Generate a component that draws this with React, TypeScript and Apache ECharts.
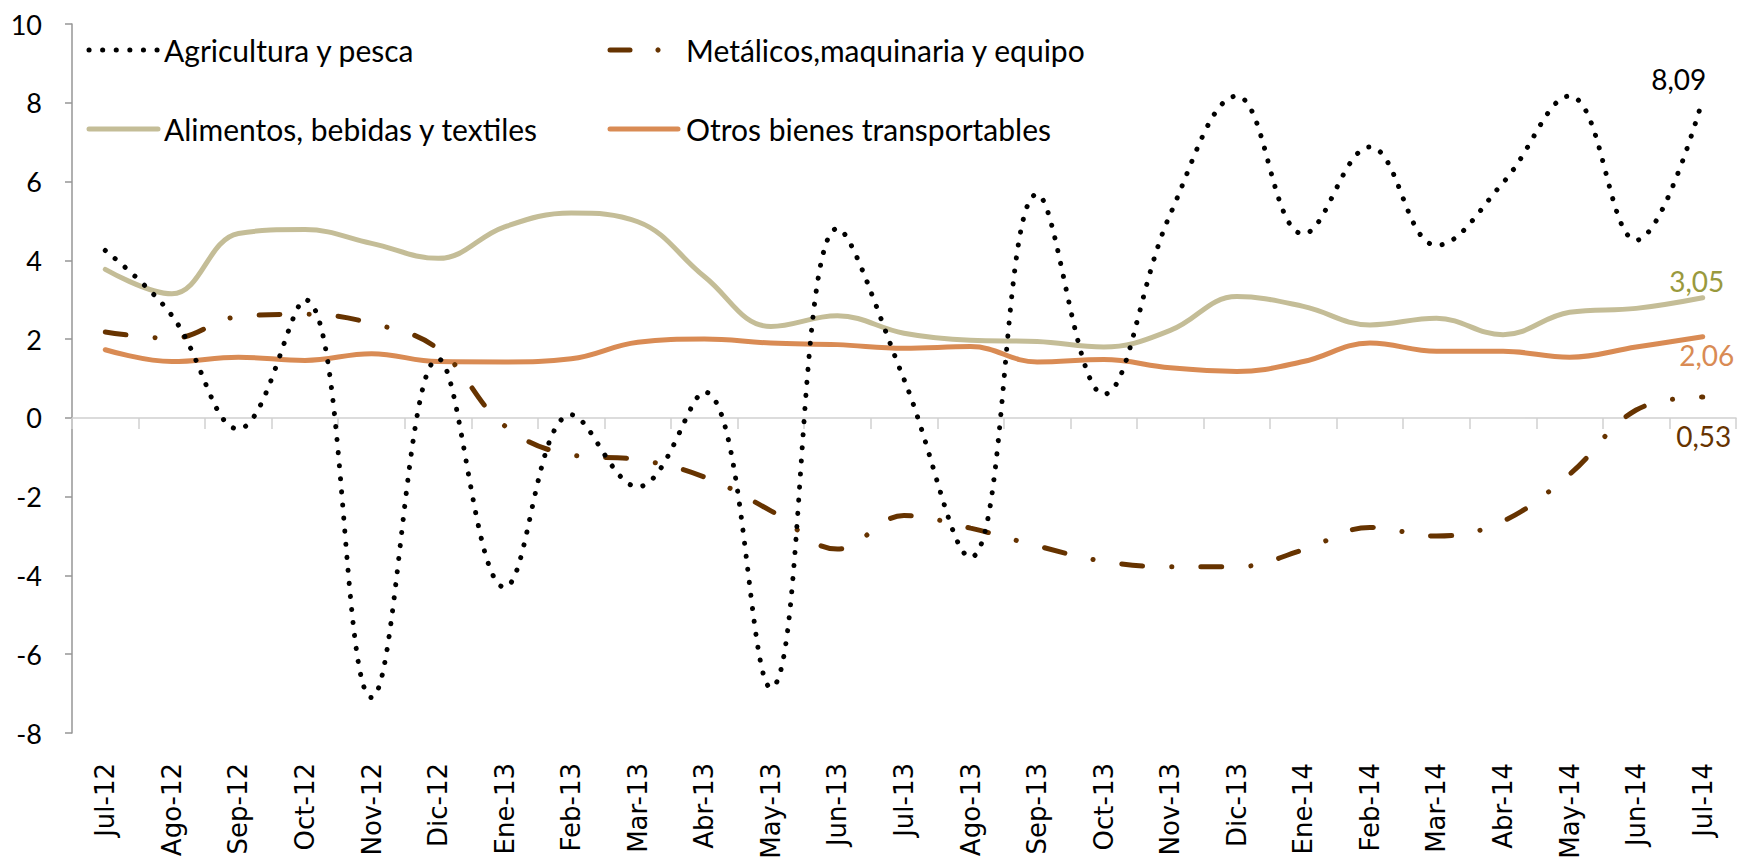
import React, { useEffect, useRef } from "react";
import * as echarts from "echarts";

// Monthly categories (Jul-12 .. Jul-14)
const categories: string[] = [
  "Jul-12", "Ago-12", "Sep-12", "Oct-12", "Nov-12", "Dic-12",
  "Ene-13", "Feb-13", "Mar-13", "Abr-13", "May-13", "Jun-13",
  "Jul-13", "Ago-13", "Sep-13", "Oct-13", "Nov-13", "Dic-13",
  "Ene-14", "Feb-14", "Mar-14", "Abr-14", "May-14", "Jun-14", "Jul-14",
];

const agricultura: number[] = [
  4.25, 2.6, -0.28, 3.0, -7.1, 1.5, -4.3, 0.08, -1.75, 0.66, -6.85, 4.81,
  0.98, -3.54, 5.68, 0.6, 5.17, 8.17, 4.67, 6.88, 4.38, 5.97, 8.17, 4.51, 8.09,
];

const metalicos: number[] = [
  2.18, 2.02, 2.57, 2.63, 2.4, 1.75, -0.2, -0.94, -1.06, -1.5, -2.36, -3.33,
  -2.48, -2.8, -3.25, -3.64, -3.78, -3.78, -3.35, -2.78, -3.0, -2.62, -1.43, 0.2, 0.53,
];

const alimentos: number[] = [
  3.77, 3.15, 4.68, 4.78, 4.43, 4.05, 4.85, 5.2, 4.98, 3.59, 2.32, 2.59,
  2.15, 1.97, 1.94, 1.8, 2.22, 3.08, 2.83, 2.36, 2.53, 2.11, 2.68, 2.78, 3.05,
];

const otros: number[] = [
  1.73, 1.43, 1.54, 1.46, 1.63, 1.43, 1.42, 1.5, 1.92, 2.0, 1.9, 1.86,
  1.77, 1.81, 1.42, 1.48, 1.27, 1.18, 1.43, 1.9, 1.69, 1.69, 1.54, 1.8, 2.06,
];

const yTicks = { min: -8, max: 10, interval: 2 };

const seriesNames = [
  "Agricultura y pesca",
  "Metálicos,maquinaria y equipo",
  "Alimentos, bebidas y textiles",
  "Otros bienes transportables",
];

const COLORS = {
  agricultura: "#000000",
  metalicos: "#663300",
  alimentos: "#c4bd97",
  otros: "#d98b54",
  alimentosLabel: "#99993d",
};

const TEXT_FONT = "Lato, 'Open Sans', sans-serif";
const AXIS_FONT = "'DejaVu Sans', sans-serif";

const fmt = (v: number) => v.toFixed(2).replace(".", ",");

// Value label drawn at the last point of a line
function endLabel(color: string, offset: [number, number]) {
  return {
    show: true,
    formatter: (p: any) => fmt(Array.isArray(p.value) ? p.value[1] : p.value),
    color,
    fontFamily: TEXT_FONT,
    fontSize: 28,
    distance: 0,
    align: "center",
    verticalAlign: "middle",
    offset,
  };
}

export default function App() {
  const ref = useRef<HTMLDivElement>(null);

  useEffect(() => {
    if (!ref.current) return;
    const chart = echarts.init(ref.current, undefined, { renderer: "svg" });

    const legendText = (x: number, y: number, text: string) => ({
      type: "text",
      x,
      y,
      style: {
        text,
        fill: "#000",
        font: `30px ${TEXT_FONT}`,
        verticalAlign: "middle",
      },
    });

    chart.setOption({
      animation: false,
      backgroundColor: "#ffffff",
      grid: { left: 72, right: 4, top: 24, bottom: 129, containLabel: false },
      xAxis: [
        {
          type: "category",
          data: categories,
          position: "bottom",
          boundaryGap: true,
          axisLine: { show: false, onZero: false },
          axisTick: { show: false },
          axisLabel: {
            rotate: 90,
            margin: 30,
            interval: 0,
            color: "#000",
            fontFamily: AXIS_FONT,
            fontSize: 26,
          },
          splitLine: { show: false },
        },
        {
          type: "category",
          data: categories,
          position: "top",
          boundaryGap: true,
          axisLine: { show: true, onZero: true, lineStyle: { color: "#d0d0d0", width: 1.5 } },
          axisTick: { show: true, inside: true, length: 11, lineStyle: { color: "#d0d0d0", width: 1.5 } },
          axisLabel: { show: false },
          splitLine: { show: false },
        },
      ],
      yAxis: {
        type: "value",
        min: yTicks.min,
        max: yTicks.max,
        interval: yTicks.interval,
        axisLine: { show: true, lineStyle: { color: "#969696", width: 1.5 } },
        axisTick: { show: true, length: 7, lineStyle: { color: "#969696", width: 1.5 } },
        splitLine: { show: false },
        axisLabel: {
          margin: 30,
          color: "#000",
          fontFamily: TEXT_FONT,
          fontSize: 27,
        },
      },
      series: [
        {
          name: seriesNames[0],
          type: "line",
          xAxisIndex: 0,
          data: agricultura,
          smooth: 0.4,
          symbol: "none",
          z: 5,
          lineStyle: { color: COLORS.agricultura, width: 5, type: [0.1, 13], cap: "round" },
          endLabel: endLabel(COLORS.agricultura, [-24, -20]),
        },
        {
          name: seriesNames[1],
          type: "line",
          xAxisIndex: 0,
          data: metalicos,
          smooth: 0.4,
          symbol: "none",
          z: 4,
          lineStyle: { color: COLORS.metalicos, width: 5, type: [21, 29, 0.1, 29], cap: "round" },
          endLabel: endLabel(COLORS.metalicos, [1, 39]),
        },
        {
          name: seriesNames[2],
          type: "line",
          xAxisIndex: 0,
          data: alimentos,
          smooth: 0.4,
          symbol: "none",
          z: 3,
          lineStyle: { color: COLORS.alimentos, width: 5, cap: "round" },
          endLabel: endLabel(COLORS.alimentosLabel, [-6, -17]),
        },
        {
          name: seriesNames[3],
          type: "line",
          xAxisIndex: 0,
          data: otros,
          smooth: 0.4,
          symbol: "none",
          z: 3,
          lineStyle: { color: COLORS.otros, width: 5, cap: "round" },
          endLabel: endLabel(COLORS.otros, [4, 18]),
        },
      ],
      graphic: [
        // legend row 1
        {
          type: "line",
          shape: { x1: 89, y1: 50, x2: 158, y2: 50 },
          style: { stroke: COLORS.agricultura, lineWidth: 5, lineDash: [0.1, 13.5], lineCap: "round" },
        },
        legendText(164, 50, seriesNames[0]),
        {
          type: "line",
          shape: { x1: 610, y1: 50, x2: 630, y2: 50 },
          style: { stroke: COLORS.metalicos, lineWidth: 5, lineCap: "round" },
        },
        {
          type: "circle",
          shape: { cx: 658, cy: 50, r: 2.6 },
          style: { fill: COLORS.metalicos },
        },
        legendText(686, 50, seriesNames[1]),
        // legend row 2
        {
          type: "line",
          shape: { x1: 89, y1: 129, x2: 158, y2: 129 },
          style: { stroke: COLORS.alimentos, lineWidth: 5, lineCap: "round" },
        },
        legendText(164, 129, seriesNames[2]),
        {
          type: "line",
          shape: { x1: 610, y1: 129, x2: 678, y2: 129 },
          style: { stroke: COLORS.otros, lineWidth: 5, lineCap: "round" },
        },
        legendText(686, 129, seriesNames[3]),
      ],
    });

    const onResize = () => chart.resize();
    window.addEventListener("resize", onResize);
    return () => {
      window.removeEventListener("resize", onResize);
      chart.dispose();
    };
  }, []);

  return (
    <div
      ref={ref}
      style={{ position: "fixed", left: 0, top: 0, width: 1740, height: 862, background: "#fff" }}
    />
  );
}
